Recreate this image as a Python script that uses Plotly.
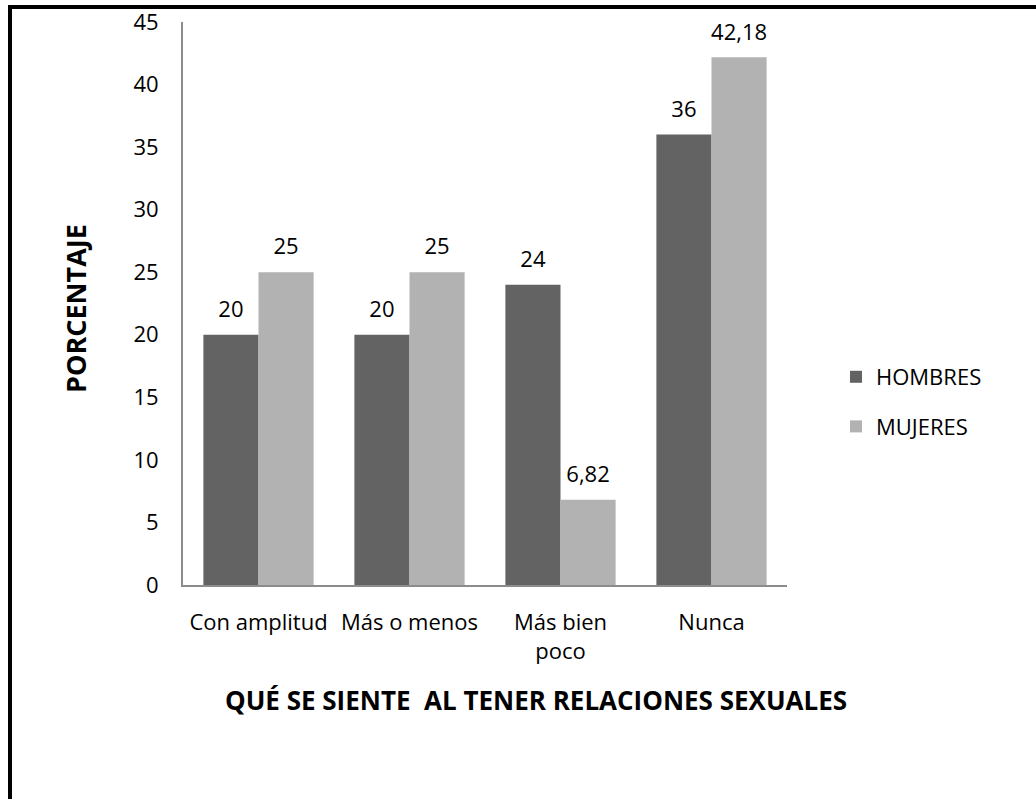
import plotly.graph_objects as go

categories = ['Con amplitud', 'Más o menos', 'Más bien<br>poco', 'Nunca']
hombres = [20, 20, 24, 36]
mujeres = [25, 25, 6.82, 42.18]
y_ticks = [0, 5, 10, 15, 20, 25, 30, 35, 40, 45]

FONT = 'Open Sans, Noto Sans, sans-serif'
FS = 22


def fmt(v):
    return f'{v:g}'.replace('.', ',')


fig = go.Figure()
for name, vals, color, grp in [('HOMBRES', hombres, '#636363', 'h'),
                               ('MUJERES', mujeres, '#b2b2b2', 'm')]:
    fig.add_trace(go.Bar(
        name=name, x=categories, y=vals, legendgroup=grp,
        offsetgroup=grp, alignmentgroup='a', marker_color=color,
        marker_line_width=0, hoverinfo='skip',
    ))
    # value labels, floated a bit above the bars
    fig.add_trace(go.Scatter(
        x=categories, y=vals, mode='markers+text', offsetgroup=grp,
        alignmentgroup='a', text=[fmt(v) for v in vals],
        textposition='top center', textfont=dict(color='black', size=FS),
        marker=dict(size=18, opacity=0), showlegend=False, hoverinfo='skip',
        cliponaxis=False,
    ))

W, H = 1036, 799
L, R, T, B = 183, 249, 22, 214
pw, ph = W - L - R, H - T - B

# frame (left + top edges only visible)
fig.add_shape(type='line', xref='paper', yref='paper',
              x0=(8 - L) / pw, x1=(1040 - L) / pw,
              y0=(H - B - 7) / ph, y1=(H - B - 7) / ph,
              line=dict(color='black', width=4))
fig.add_shape(type='line', xref='paper', yref='paper',
              x0=(10 - L) / pw, x1=(10 - L) / pw,
              y0=(H - B - 5) / ph, y1=(H - B - 810) / ph,
              line=dict(color='black', width=4))

fig.update_layout(
    width=W, height=H,
    margin=dict(l=L, r=R, t=T, b=B),
    plot_bgcolor='white', paper_bgcolor='white',
    barmode='group', bargap=0.27, bargroupgap=0,
    scattermode='group', scattergap=0.27,
    font=dict(family=FONT, size=FS, color='black'),
    showlegend=True,
    legend=dict(x=(836 - L) / pw, y=(H - B - 402) / ph, xanchor='left', yanchor='middle',
                font=dict(size=FS), tracegroupgap=18, itemsizing='constant'),
    xaxis=dict(showline=True, linecolor='#8c8c8c', linewidth=2, ticks='', automargin=False,
               tickfont=dict(size=FS), showgrid=False, ticklabelstandoff=17),
    yaxis=dict(range=[0, 45], tickvals=y_ticks, showline=True, linecolor='#8c8c8c',
               linewidth=2, ticks='', showgrid=False, zeroline=False, automargin=False,
               tickfont=dict(size=FS), ticklabelstandoff=18),
)

fig.add_annotation(text='<b>PORCENTAJE</b>', textangle=-90, xref='paper', yref='paper',
                   x=(75 - L) / pw, y=(H - B - 309) / ph, xanchor='center', yanchor='middle',
                   showarrow=False, font=dict(size=27))
fig.add_annotation(text='<b>QUÉ SE SIENTE  AL TENER RELACIONES SEXUALES</b>',
                   xref='paper', yref='paper',
                   x=(536 - L) / pw, y=(H - B - 700) / ph, xanchor='center', yanchor='middle',
                   showarrow=False, font=dict(size=26))

fig.write_html('out.html', config={'displayModeBar': False},
               post_script="document.body.style.margin='0';")
